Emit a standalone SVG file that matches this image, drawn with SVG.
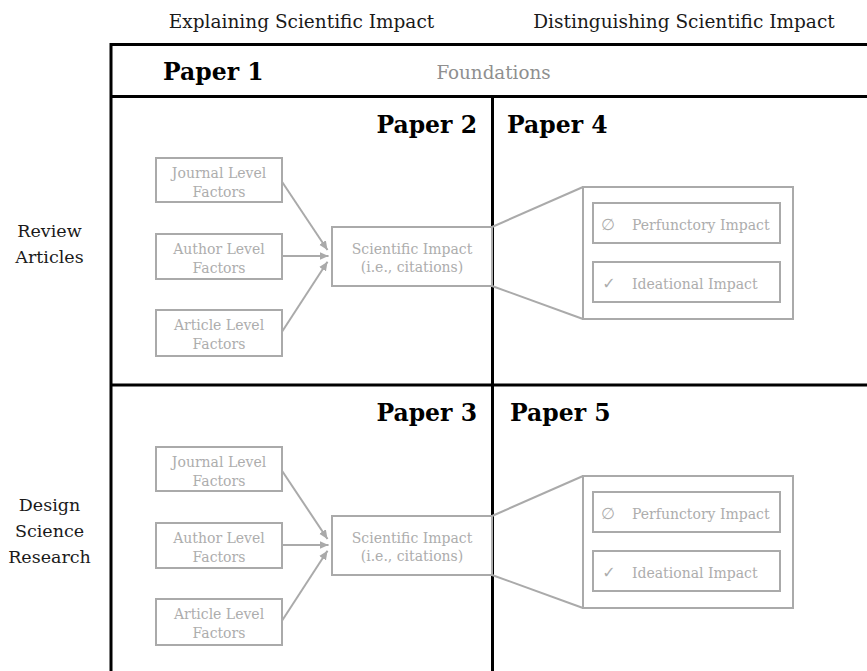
<svg xmlns="http://www.w3.org/2000/svg" width="867" height="671" viewBox="0 0 867 671">
<defs>
<style>
text{font-family:"DejaVu Serif","Liberation Serif",serif;}
.hdr{font-size:18.5px;fill:#1a1a1a;text-anchor:middle;}
.row{font-size:17.5px;fill:#1a1a1a;text-anchor:middle;}
.paper{font-size:23.5px;font-weight:bold;fill:#000;}
.found{font-size:18.3px;fill:#8f8f8f;text-anchor:middle;}
.frame{stroke:#000;stroke-width:3;fill:none;}
.box{fill:#fff;stroke:#aaaaaa;stroke-width:2;}
.nt{font-size:14px;fill:#adadad;text-anchor:middle;}
.it{font-size:14px;fill:#adadad;}
.sym{font-family:"DejaVu Sans",sans-serif;font-size:16px;fill:#adadad;text-anchor:middle;}
.edge{stroke:#aaaaaa;stroke-width:2;fill:none;}
</style>
<marker id="arr" markerUnits="userSpaceOnUse" markerWidth="10" markerHeight="10" viewBox="0 0 10 10" refX="9" refY="5" orient="auto">
<path d="M0,1 L9,5 L0,9 Z" fill="#aaaaaa"/>
</marker>
</defs>
<rect width="867" height="671" fill="#fff"/>

<g id="headers">
<text class="hdr" x="301.5" y="28">Explaining Scientific Impact</text>
<text class="hdr" x="684" y="28">Distinguishing Scientific Impact</text>
</g>

<g id="row-labels">
<text class="row" x="49.5" y="236.5">Review</text>
<text class="row" x="49.5" y="263">Articles</text>
<text class="row" x="49.5" y="511">Design</text>
<text class="row" x="49.5" y="537">Science</text>
<text class="row" x="49.5" y="563">Research</text>
</g>

<g id="grid">
<path class="frame" d="M111,671 V44.5 H867"/>
<path class="frame" d="M111,96.5 H867"/>
<path class="frame" d="M111,385 H867"/>
<path class="frame" d="M492.5,96.5 V671"/>
</g>

<g id="paper1">
<text class="paper" x="163" y="80">Paper 1</text>
<text class="found" x="493.5" y="78.5">Foundations</text>
</g>

<g id="paper-labels">
<text class="paper" x="477" y="132.5" text-anchor="end">Paper 2</text>
<text class="paper" x="507" y="132.5">Paper 4</text>
<text class="paper" x="477" y="420.5" text-anchor="end">Paper 3</text>
<text class="paper" x="510" y="420.5">Paper 5</text>
</g>

<g id="connectors">
<line class="edge" x1="282" y1="181.7" x2="327.5" y2="250" marker-end="url(#arr)"/>
<line class="edge" x1="282" y1="256" x2="328.5" y2="256" marker-end="url(#arr)"/>
<line class="edge" x1="282" y1="331.7" x2="327.5" y2="261.7" marker-end="url(#arr)"/>
<line class="edge" x1="492" y1="227" x2="583" y2="187"/>
<line class="edge" x1="492" y1="286" x2="583" y2="319"/>
<line class="edge" x1="282" y1="470.7" x2="327.5" y2="539" marker-end="url(#arr)"/>
<line class="edge" x1="282" y1="545" x2="328.5" y2="545" marker-end="url(#arr)"/>
<line class="edge" x1="282" y1="620.7" x2="327.5" y2="550.7" marker-end="url(#arr)"/>
<line class="edge" x1="492" y1="516" x2="583" y2="476"/>
<line class="edge" x1="492" y1="575" x2="583" y2="608"/>
</g>

<g id="p2-journal">
<rect class="box" x="156" y="158" width="126" height="44"/>
<text class="nt" x="219" y="177.5">Journal Level</text>
<text class="nt" x="219" y="196.5">Factors</text>
</g>
<g id="p2-author">
<rect class="box" x="156" y="234" width="126" height="45"/>
<text class="nt" x="219" y="253.5">Author Level</text>
<text class="nt" x="219" y="272.5">Factors</text>
</g>
<g id="p2-article">
<rect class="box" x="156" y="310" width="126" height="46"/>
<text class="nt" x="219" y="329.5">Article Level</text>
<text class="nt" x="219" y="348.5">Factors</text>
</g>
<g id="p2-impact">
<rect class="box" x="332" y="227" width="160" height="59"/>
<text class="nt" x="412" y="253.5">Scientific Impact</text>
<text class="nt" x="412" y="272">(i.e., citations)</text>
</g>

<g id="p4-types">
<rect class="box" x="583" y="187" width="210" height="132"/>
</g>
<g id="p4-perfunctory">
<rect class="box" x="593" y="203" width="187" height="40"/>
<text class="sym" x="608" y="230">∅</text>
<text class="it" x="632" y="230">Perfunctory Impact</text>
</g>
<g id="p4-ideational">
<rect class="box" x="593" y="262" width="187" height="40"/>
<text class="sym" x="609" y="288.5">✓</text>
<text class="it" x="632" y="288.5">Ideational Impact</text>
</g>

<g id="p3-journal">
<rect class="box" x="156" y="447" width="126" height="44"/>
<text class="nt" x="219" y="466.5">Journal Level</text>
<text class="nt" x="219" y="485.5">Factors</text>
</g>
<g id="p3-author">
<rect class="box" x="156" y="523" width="126" height="45"/>
<text class="nt" x="219" y="542.5">Author Level</text>
<text class="nt" x="219" y="561.5">Factors</text>
</g>
<g id="p3-article">
<rect class="box" x="156" y="599" width="126" height="46"/>
<text class="nt" x="219" y="618.5">Article Level</text>
<text class="nt" x="219" y="637.5">Factors</text>
</g>
<g id="p3-impact">
<rect class="box" x="332" y="516" width="160" height="59"/>
<text class="nt" x="412" y="542.5">Scientific Impact</text>
<text class="nt" x="412" y="561">(i.e., citations)</text>
</g>

<g id="p5-types">
<rect class="box" x="583" y="476" width="210" height="132"/>
</g>
<g id="p5-perfunctory">
<rect class="box" x="593" y="492" width="187" height="40"/>
<text class="sym" x="608" y="519">∅</text>
<text class="it" x="632" y="519">Perfunctory Impact</text>
</g>
<g id="p5-ideational">
<rect class="box" x="593" y="551" width="187" height="40"/>
<text class="sym" x="609" y="577.5">✓</text>
<text class="it" x="632" y="577.5">Ideational Impact</text>
</g>
</svg>
